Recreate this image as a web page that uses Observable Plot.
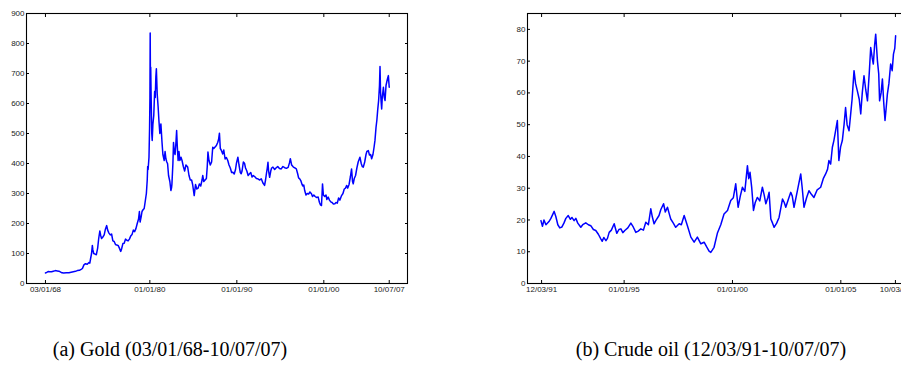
<!DOCTYPE html>
<html>
<head>
<meta charset="utf-8">
<script src="https://cdn.jsdelivr.net/npm/d3@7"></script>
<script src="https://cdn.jsdelivr.net/npm/@observablehq/plot@0.6"></script>
<style>
  html, body { margin: 0; padding: 0; background: #fff; }
  body { width: 901px; height: 365px; overflow: hidden; position: relative; }
  #gold { position: absolute; left: 0; top: 0; width: 417px; }
  #oil { position: absolute; left: 500px; top: 0; width: 419px; }
  #gold svg, #oil svg { max-width: none !important; }
  .cap { position: absolute; top: 338px; font-family: "Liberation Serif", "DejaVu Serif", serif; font-size: 20px; color: #000; white-space: nowrap; transform: translateX(-50%); }
  svg text { font-family: "Liberation Sans", Arial, sans-serif; }
</style>
</head>
<body>
<div id="gold"></div>
<div id="oil"></div>
<div class="cap" style="left:170px">(a) Gold (03/01/68-10/07/07)</div>
<div class="cap" style="left:711px">(b) Crude oil (12/03/91-10/07/07)</div>
<script>
// ---------- Gold (decimal year, price) ----------
const goldYears = [
1968.00,1968.15,1968.30,1968.50,1968.70,1968.90,1969.15,1969.35,1969.55,1969.75,1969.90,
1970.10,1970.40,1970.70,1970.95,1971.20,1971.45,1971.66,1971.90,1972.10,1972.25,1972.42,
1972.60,1972.80,1973.00,1973.10,1973.20,1973.30,1973.39,1973.45,1973.55,1973.70,1973.85,
1974.00,1974.12,1974.25,1974.35,1974.45,1974.60,1974.75,1974.90,1975.04,1975.15,1975.30,
1975.45,1975.60,1975.75,1975.90,1976.05,1976.20,1976.35,1976.50,1976.65,1976.75,1976.90,
1977.05,1977.20,1977.35,1977.50,1977.65,1977.80,1977.95,1978.10,1978.25,1978.40,1978.55,
1978.70,1978.80,1978.88,1979.00,1979.10,1979.20,1979.35,1979.50,1979.60,1979.70,1979.75,
1979.80,1979.90,1979.97,1980.01,1980.04,1980.07,1980.10,1980.15,1980.22,1980.27,1980.35,
1980.45,1980.55,1980.62,1980.69,1980.75,1980.85,1980.95,1981.05,1981.15,1981.27,1981.40,
1981.50,1981.65,1981.75,1981.85,1981.95,1982.04,1982.15,1982.30,1982.42,1982.50,1982.54,
1982.65,1982.72,1982.80,1982.90,1983.00,1983.08,1983.15,1983.25,1983.35,1983.45,1983.58,
1983.70,1983.85,1984.00,1984.15,1984.35,1984.50,1984.65,1984.80,1984.92,1985.10,1985.25,
1985.40,1985.55,1985.69,1985.85,1986.00,1986.08,1986.20,1986.35,1986.50,1986.60,1986.68,
1986.80,1986.95,1987.10,1987.23,1987.35,1987.50,1987.65,1987.80,1987.90,1988.00,1988.10,
1988.20,1988.38,1988.50,1988.65,1988.80,1988.96,1989.10,1989.25,1989.40,1989.54,1989.70,
1989.85,1989.95,1990.12,1990.25,1990.40,1990.50,1990.60,1990.75,1990.88,1991.00,1991.15,
1991.30,1991.46,1991.60,1991.75,1991.90,1992.10,1992.25,1992.42,1992.60,1992.81,1993.00,
1993.19,1993.30,1993.42,1993.50,1993.58,1993.65,1993.77,1993.90,1994.00,1994.15,1994.35,
1994.50,1994.70,1994.90,1995.10,1995.30,1995.50,1995.70,1995.90,1996.05,1996.15,1996.30,
1996.50,1996.70,1996.84,1997.00,1997.10,1997.23,1997.35,1997.50,1997.60,1997.70,1997.80,
1997.95,1998.10,1998.25,1998.40,1998.58,1998.70,1998.85,1999.00,1999.15,1999.35,1999.50,
1999.62,1999.73,1999.80,1999.85,1999.95,2000.10,2000.25,2000.35,2000.50,2000.65,2000.80,
2000.95,2001.10,2001.27,2001.40,2001.55,2001.70,2001.85,2002.04,2002.20,2002.35,2002.50,
2002.62,2002.75,2002.90,2003.05,2003.19,2003.30,2003.38,2003.50,2003.65,2003.80,2003.95,
2004.15,2004.30,2004.42,2004.54,2004.70,2004.85,2004.95,2005.12,2005.25,2005.38,2005.50,
2005.65,2005.78,2005.88,2006.00,2006.10,2006.19,2006.30,2006.40,2006.46,2006.52,2006.58,
2006.65,2006.72,2006.85,2006.95,2007.04,2007.15,2007.30,2007.42,2007.52
];
const goldPrices = [
35,37,40,39,39,41,43,42,41,38,35.5,
35,35.5,36,37.5,39,40.5,43,44,47,50,62,
66,64,70,68,85,100,127,112,100,98,96,
118,150,175,160,150,155,162,182,193,178,168,
162,165,142,140,130,128,127,118,107,115,133,
134,148,144,142,148,158,163,178,173,183,200,
215,240,205,222,240,245,250,280,300,345,390,
380,420,520,620,835,660,721,620,500,477,530,
560,640,620,688,716,630,590,540,500,532,470,
430,410,440,415,405,399,360,340,310,320,332,
400,470,440,430,470,510,460,410,440,410,421,
410,390,375,395,388,360,345,345,330,293,330,
315,318,332,325,345,360,340,345,350,390,438,
410,395,405,454,450,455,460,470,480,501,450,
445,432,445,415,420,410,395,385,370,371,365,
380,400,421,395,370,366,375,405,401,385,375,
360,366,370,355,360,355,350,349,345,349,335,
327,345,370,385,404,375,354,375,385,388,380,
385,390,383,382,390,386,384,387,402,416,395,
388,385,382,365,352,349,343,330,325,328,310,
295,300,298,305,299,290,295,290,287,288,270,
262,260,300,332,295,290,295,280,288,278,272,
270,265,266,270,268,285,278,293,300,315,318,
327,318,330,355,382,340,332,350,360,385,405,
421,400,390,388,405,430,440,443,428,430,416,
430,455,477,520,545,577,610,660,723,640,610,
582,620,654,620,610,660,680,693,654
];

// ---------- Crude oil (decimal year, price) ----------
const oilYears = [
1991.16,1991.23,1991.30,1991.39,1991.53,1991.62,1991.77,1991.85,1991.94,1992.03,1992.13,
1992.22,1992.31,1992.42,1992.52,1992.59,1992.69,1992.77,1992.86,1993.00,1993.09,1993.23,
1993.35,1993.46,1993.58,1993.69,1993.81,1993.93,1993.99,1994.06,1994.16,1994.23,1994.31,
1994.41,1994.54,1994.66,1994.76,1994.85,1994.94,1995.03,1995.17,1995.31,1995.42,1995.54,
1995.65,1995.77,1995.89,1996.00,1996.12,1996.23,1996.30,1996.38,1996.46,1996.61,1996.69,
1996.82,1996.90,1997.00,1997.08,1997.15,1997.27,1997.38,1997.54,1997.64,1997.77,1997.92,
1998.08,1998.23,1998.38,1998.54,1998.69,1998.81,1998.92,1999.00,1999.15,1999.31,1999.46,
1999.61,1999.77,1999.92,2000.04,2000.15,2000.26,2000.36,2000.46,2000.57,2000.69,2000.75,
2000.81,2000.89,2000.97,2001.05,2001.15,2001.26,2001.38,2001.46,2001.54,2001.63,2001.69,
2001.77,2001.85,2001.92,2002.04,2002.15,2002.31,2002.39,2002.46,2002.58,2002.69,2002.76,
2002.84,2002.99,2003.15,2003.22,2003.30,2003.42,2003.53,2003.65,2003.76,2003.91,2004.07,
2004.19,2004.30,2004.39,2004.45,2004.53,2004.61,2004.68,2004.76,2004.84,2004.91,2004.99,
2005.07,2005.15,2005.22,2005.29,2005.38,2005.45,2005.52,2005.61,2005.68,2005.76,2005.85,
2005.92,2005.99,2006.07,2006.15,2006.23,2006.31,2006.38,2006.45,2006.50,2006.56,2006.61,
2006.69,2006.75,2006.79,2006.86,2006.92,2006.98,2007.04,2007.09,2007.15,2007.22,2007.30,
2007.37,2007.43,2007.49,2007.53
];
const oilPrices = [
19.8,18.0,20.0,18.5,19.5,20.5,22.7,21.0,18.5,17.5,17.8,
19.0,20.5,21.4,20.2,20.8,19.8,20.5,19.0,17.7,18.5,19.1,
18.5,18.2,17.0,16.7,15.5,14.0,13.3,14.5,13.5,14.2,16.1,
16.8,18.8,15.8,17.0,17.2,16.0,16.7,17.5,19.0,17.8,16.1,
16.5,17.2,16.8,19.3,18.5,23.5,21.0,18.8,19.8,21.4,23.2,
25.1,22.5,24.0,22.0,20.3,19.0,17.7,18.8,18.5,21.4,18.2,
14.6,13.0,14.6,12.5,13.0,11.5,10.2,9.8,11.4,16.0,18.5,
21.9,23.0,26.1,27.0,31.4,24.0,27.5,30.3,29.0,37.1,33.0,
35.0,30.0,23.0,25.5,27.1,26.0,30.3,28.0,25.1,27.0,28.7,
20.3,19.0,17.7,19.0,20.8,26.6,25.5,24.0,26.5,28.7,27.5,
24.0,29.0,34.5,30.0,24.0,27.0,29.2,28.0,27.1,29.5,30.3,
33.0,34.5,36.0,38.7,37.6,42.9,45.0,48.1,51.3,38.7,43.0,
45.0,50.0,55.4,50.0,48.1,53.0,58.0,67.0,63.0,60.7,58.0,
53.4,60.0,65.4,61.0,57.5,66.0,74.3,71.0,69.1,75.0,78.5,
70.1,66.0,57.5,60.0,64.4,57.0,51.3,55.0,59.7,63.0,69.1,
67.0,72.2,74.0,78.0
];

// ---------- Axes ----------
const goldXTicks = [1968.0, 1980.0, 1990.0, 2000.0, 2007.52];
const goldXLabels = ["03/01/68", "01/01/80", "01/01/90", "01/01/00", "10/07/07"];
const goldYTicks = [0, 100, 200, 300, 400, 500, 600, 700, 800, 900];
const oilXTicks = [1991.19, 1995.0, 2000.0, 2005.0, 2007.52];
const oilXLabels = ["12/03/91", "01/01/95", "01/01/00", "01/01/05", "10/03/07"];
const oilYTicks = [0, 10, 20, 30, 40, 50, 60, 70, 80];

function panel({years, prices, xTicks, xLabels, yTicks, xDomain, yDomain, width, marginLeft}) {
  const data = years.map((t, i) => ({t, v: prices[i]}));
  const lab = new Map(xTicks.map((t, i) => [t, xLabels[i]]));
  const tickOpts = {tickSize: -3, tickFormat: () => "", label: null, stroke: "#000", strokeWidth: 1};
  const textOpts = {tickSize: 0, label: null, fontSize: 8, fill: "#222", stroke: null};
  return Plot.plot({
    width, height: 300,
    marginLeft, marginTop: 13, marginRight: 10, marginBottom: 17,
    style: {background: "#fff", overflow: "visible", maxWidth: "none"},
    x: {type: "linear", domain: xDomain, axis: null, label: null},
    y: {type: "linear", domain: yDomain, axis: null, label: null},
    marks: [
      Plot.axisX({...tickOpts, anchor: "bottom", ticks: xTicks}),
      Plot.axisX({...tickOpts, anchor: "top", ticks: xTicks}),
      Plot.axisY({...tickOpts, anchor: "left", ticks: yTicks}),
      Plot.axisY({...tickOpts, anchor: "right", ticks: yTicks}),
      Plot.axisX({...textOpts, anchor: "bottom", ticks: xTicks, tickPadding: 3, tickFormat: d => lab.get(d)}),
      Plot.axisY({...textOpts, anchor: "left", ticks: yTicks, tickPadding: 2, tickFormat: d => String(d)}),
      Plot.line(data, {x: "t", y: "v", stroke: "#0000ff", strokeWidth: 1.5}),
      Plot.frame({stroke: "#000", strokeWidth: 1.1})
    ]
  });
}

document.getElementById("gold").append(panel({
  years: goldYears, prices: goldPrices, xTicks: goldXTicks, xLabels: goldXLabels,
  yTicks: goldYTicks, xDomain: [1965.82, 2009.62], yDomain: [0, 900], width: 417, marginLeft: 26
}));
document.getElementById("oil").append(panel({
  years: oilYears, prices: oilPrices, xTicks: oilXTicks, xLabels: oilXLabels,
  yTicks: oilYTicks, xDomain: [1990.54, 2008.17], yDomain: [0, 85], width: 419, marginLeft: 27
}));
</script>
</body>
</html>
